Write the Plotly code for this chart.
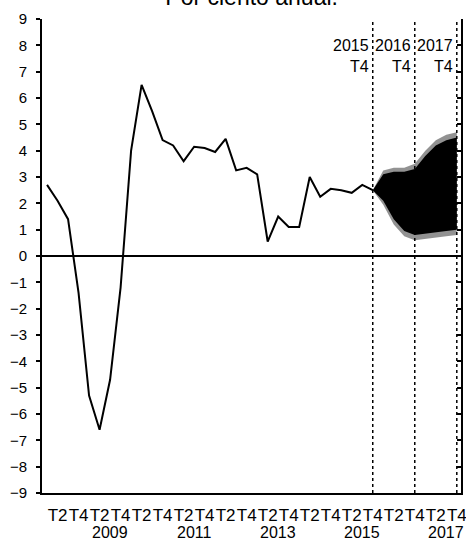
import plotly.graph_objects as go

# ---- data ----
years = list(range(2008, 2018))
hist_values = [2.7, 2.1, 1.4, -1.4,
               -5.3, -6.6, -4.7, -1.2,
               4.0, 6.5, 5.5, 4.4,
               4.2, 3.6, 4.15, 4.1,
               3.95, 4.45, 3.25, 3.35,
               3.1, 0.55, 1.5, 1.1,
               1.1, 3.0, 2.25, 2.55,
               2.5, 2.4, 2.7, 2.5]
# fan from 2015 T4 to 2017 T4
fan_inner_upper = [2.5, 3.1, 3.2, 3.2, 3.3, 3.8, 4.2, 4.4, 4.5]
fan_inner_lower = [2.5, 2.1, 1.4, 0.95, 0.8, 0.85, 0.9, 0.95, 1.0]
fan_outer_upper = [2.5, 3.25, 3.35, 3.35, 3.5, 4.0, 4.4, 4.6, 4.7]
fan_outer_lower = [2.5, 1.95, 1.2, 0.75, 0.6, 0.65, 0.7, 0.75, 0.8]
marker_labels = [("2015", "T4"), ("2016", "T4"), ("2017", "T4")]
y_ticks = list(range(-9, 10))
quarter_tick_labels = ["T2", "T4"]
title_text = "Por ciento anual."

def qidx(year, q):
    return (year - years[0]) * 4 + (q - 1)

hist_x = list(range(len(hist_values)))
fan_start = len(hist_values) - 1
fan_x = list(range(fan_start, fan_start + len(fan_inner_upper)))

fig = go.Figure()

# outer speckled band
fig.add_trace(go.Scatter(
    x=fan_x + fan_x[::-1], y=fan_outer_upper + fan_outer_lower[::-1],
    fill="toself", fillcolor="rgba(100,100,100,0.7)", line=dict(width=0),
    mode="lines", hoverinfo="skip", showlegend=False))
# dense inner fan
fig.add_trace(go.Scatter(
    x=fan_x + fan_x[::-1], y=fan_inner_upper + fan_inner_lower[::-1],
    fill="toself", fillcolor="black", line=dict(width=0, color="black"),
    mode="lines", hoverinfo="skip", showlegend=False))

# zero line
fig.add_trace(go.Scatter(x=[-0.48, 39.4], y=[0, 0], mode="lines",
                         line=dict(color="black", width=2),
                         hoverinfo="skip", showlegend=False))

# vertical dotted lines
for (yr, ql) in marker_labels:
    xi = qidx(int(yr), 4)
    fig.add_trace(go.Scatter(x=[xi, xi], y=[-9, 8.9], mode="lines",
                             line=dict(color="black", width=1.5, dash="dot"),
                             hoverinfo="skip", showlegend=False))
    fig.add_annotation(x=xi - 0.15, y=7.6, xref="x", yref="y",
                       text=f"{yr}<br>{ql}", showarrow=False,
                       xanchor="right", yanchor="middle", align="right",
                       font=dict(size=16, color="black",
                                 family="Liberation Sans, Arial"))

# history line
fig.add_trace(go.Scatter(x=hist_x, y=hist_values, mode="lines",
                         line=dict(color="black", width=2),
                         showlegend=False))

# year labels
for yr in years:
    if (yr - years[0]) % 2 == 1:
        xm = (qidx(yr, 2) + qidx(yr, 4)) / 2
        fig.add_annotation(x=xm, y=-0.083, xref="x", yref="paper",
                           text=str(yr), showarrow=False,
                           xanchor="center", yanchor="middle",
                           font=dict(size=16, color="black",
                                     family="Liberation Sans, Arial"))

tickvals = []
ticktext = []
for yr in years:
    for q, lab in zip([2, 4], quarter_tick_labels):
        tickvals.append(qidx(yr, q))
        ticktext.append(lab)

fig.update_layout(
    width=466, height=543,
    margin=dict(l=42, r=5, t=19, b=50, autoexpand=False),
    paper_bgcolor="white", plot_bgcolor="white",
    font=dict(family="Liberation Sans, Arial", color="black"),
    title=dict(text=title_text, x=0.54, xanchor="center",
               y=1 - 5 / 543, yanchor="bottom",
               font=dict(size=23, color="black")),
    xaxis=dict(range=[-0.48, 39.4], tickmode="array", tickvals=tickvals,
               ticktext=ticktext, tickangle=0, ticks="", showgrid=False,
               zeroline=False, showline=True, linecolor="black", linewidth=2,
               tickfont=dict(size=17), ticklabelstandoff=6, automargin=False,
               ticklabeloverflow="allow"),
    yaxis=dict(range=[-9, 9], tickmode="array", tickvals=y_ticks,
               ticks="outside", ticklen=4, tickwidth=1.5, tickcolor="black",
               showgrid=False, zeroline=False, showline=True,
               linecolor="black", linewidth=2, tickfont=dict(size=15),
               ticklabelstandoff=6, automargin=False),
    yaxis2=dict(range=[-9, 9], overlaying="y", side="right",
                tickmode="array", tickvals=y_ticks, ticks="inside", ticklen=4,
                tickwidth=1.5, tickcolor="black", showticklabels=False,
                showgrid=False, zeroline=False, showline=True,
                linecolor="black", linewidth=2, automargin=False),
)
fig.add_trace(go.Scatter(x=[None], y=[None], yaxis="y2", showlegend=False,
                         hoverinfo="skip"))

fig.write_html("out.html", config={"displayModeBar": False},
               post_script="document.body.style.margin='0';"
                           "document.body.style.overflow='hidden';")
